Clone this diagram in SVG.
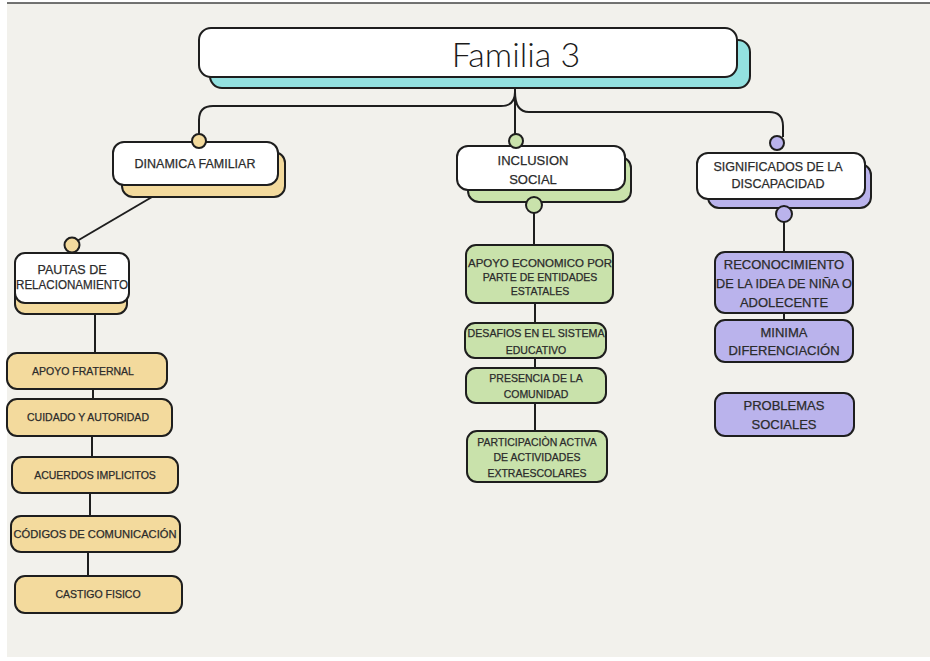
<svg xmlns="http://www.w3.org/2000/svg" width="930" height="661" viewBox="0 0 930 661">
<defs>
<style>
.bg{fill:#f2f1ec}
.box{stroke:#1e1e1e;stroke-width:2}
.w{fill:#ffffff}
.y{fill:#f3da9d}
.g{fill:#c9e2ab}
.p{fill:#bab3ec}
.t{fill:#93e1e0}
.ln{fill:none;stroke:#1e1e1e;stroke-width:2}
text{font-family:"Liberation Sans",Arial,sans-serif;fill:#2b2b2b;stroke:#2b2b2b;stroke-width:0.25;text-anchor:middle;dominant-baseline:central}
.s10{font-size:10.5px}
.s12{font-size:12.5px}
.s13{font-size:13px}
.title{font-family:Lato,"Liberation Sans",sans-serif;font-size:34px;font-weight:300;fill:#1a1a1a;stroke:none}
</style>
</defs>
<rect x="0" y="0" width="930" height="661" fill="#ffffff"/>
<rect class="bg" x="7" y="3" width="923" height="654"/>
<line x1="7" y1="3" x2="930" y2="3" stroke="#444" stroke-width="1.5"/>

<g id="connectors">
<path class="ln" d="M515,88 V134"/>
<path class="ln" d="M515,92 Q515,106 501,106 H213 Q199,106 199,120 V134"/>
<path class="ln" d="M515,92 Q515,112 529,112 H769 Q783,112 783,126 V137"/>
<path class="ln" d="M152,197 L77,241"/>
<path class="ln" d="M95,314 V353"/>
<path class="ln" d="M93,389 V399"/>
<path class="ln" d="M92,436 V457"/>
<path class="ln" d="M90,493 V516"/>
<path class="ln" d="M88,552 V576"/>
<path class="ln" d="M534,213 V245"/>
<path class="ln" d="M535,303 V323"/>
<path class="ln" d="M535,358 V368"/>
<path class="ln" d="M535,403 V431"/>
<path class="ln" d="M784,222 V252"/>
<path class="ln" d="M784,313 V320"/>
</g>

<g id="familia3">
<rect class="box t" x="210" y="40" width="540" height="48" rx="12"/>
<rect class="box w" x="199" y="28" width="538" height="49" rx="12"/>
<text class="title" x="516" y="53">Familia 3</text>
</g>

<g id="dinamica-familiar">
<rect class="box y" x="122" y="152" width="163" height="45" rx="11"/>
<rect class="box w" x="113" y="142" width="165" height="43" rx="11"/>
<circle class="box y" cx="199" cy="141" r="7"/>
<text class="s12" x="195" y="164">DINAMICA FAMILIAR</text>
</g>

<g id="pautas">
<rect class="box y" x="15" y="263" width="112" height="51" rx="10"/>
<rect class="box w" x="15" y="253" width="114" height="50" rx="10"/>
<circle class="box y" cx="72" cy="245" r="7.5"/>
<text class="s12" x="72" y="270">PAUTAS DE</text>
<text class="s12" x="72" y="285" textLength="112" lengthAdjust="spacingAndGlyphs">RELACIONAMIENTO</text>
</g>

<g id="apoyo-fraternal">
<rect class="box y" x="7" y="353" width="160" height="36" rx="10"/>
<text class="s10" x="83" y="371">APOYO FRATERNAL</text>
</g>
<g id="cuidado">
<rect class="box y" x="7" y="399" width="165" height="37" rx="10"/>
<text class="s10" x="88" y="417">CUIDADO Y AUTORIDAD</text>
</g>
<g id="acuerdos">
<rect class="box y" x="12" y="457" width="166" height="36" rx="10"/>
<text class="s10" x="95" y="475">ACUERDOS IMPLICITOS</text>
</g>
<g id="codigos">
<rect class="box y" x="11" y="516" width="169" height="36" rx="10"/>
<text class="s10" x="95" y="534" textLength="163" lengthAdjust="spacingAndGlyphs">CÓDIGOS DE COMUNICACIÓN</text>
</g>
<g id="castigo">
<rect class="box y" x="15" y="576" width="167" height="37" rx="10"/>
<text class="s10" x="98" y="594">CASTIGO FISICO</text>
</g>

<g id="inclusion-social">
<rect class="box g" x="468" y="157" width="163" height="45" rx="11"/>
<rect class="box w" x="457" y="146" width="168" height="44" rx="11"/>
<circle class="box g" cx="516" cy="141" r="7"/>
<circle class="box g" cx="534" cy="205" r="8"/>
<text class="s13" x="533" y="160">INCLUSION</text>
<text class="s13" x="533" y="179">SOCIAL</text>
</g>

<g id="apoyo-economico">
<rect class="box g" x="466" y="245" width="147" height="58" rx="10"/>
<text class="s10" x="540" y="263" textLength="144" lengthAdjust="spacingAndGlyphs">APOYO ECONOMICO POR</text>
<text class="s10" x="540" y="277">PARTE DE ENTIDADES</text>
<text class="s10" x="540" y="291">ESTATALES</text>
</g>
<g id="desafios">
<rect class="box g" x="465" y="323" width="141" height="35" rx="10"/>
<text class="s10" x="536" y="333" textLength="137" lengthAdjust="spacingAndGlyphs">DESAFIOS EN EL SISTEMA</text>
<text class="s10" x="536" y="350">EDUCATIVO</text>
</g>
<g id="presencia">
<rect class="box g" x="466" y="368" width="140" height="35" rx="10"/>
<text class="s10" x="536" y="378">PRESENCIA DE LA</text>
<text class="s10" x="536" y="394">COMUNIDAD</text>
</g>
<g id="participacion">
<rect class="box g" x="467" y="431" width="140" height="51" rx="10"/>
<text class="s10" x="537" y="442">PARTICIPACIÒN ACTIVA</text>
<text class="s10" x="537" y="457">DE ACTIVIDADES</text>
<text class="s10" x="537" y="473">EXTRAESCOLARES</text>
</g>

<g id="significados">
<rect class="box p" x="708" y="164" width="163" height="44" rx="11"/>
<rect class="box w" x="697" y="153" width="168" height="46" rx="11"/>
<circle class="box p" cx="777" cy="143" r="7"/>
<circle class="box p" cx="784" cy="214" r="8"/>
<text class="s12" x="778" y="167">SIGNIFICADOS DE LA</text>
<text class="s12" x="778" y="184">DISCAPACIDAD</text>
</g>

<g id="reconocimiento">
<rect class="box p" x="715" y="252" width="138" height="61" rx="10"/>
<text class="s13" x="784" y="264">RECONOCIMIENTO</text>
<text class="s13" x="784" y="283" textLength="136" lengthAdjust="spacingAndGlyphs">DE LA IDEA DE NIÑA O</text>
<text class="s13" x="784" y="302">ADOLECENTE</text>
</g>
<g id="minima">
<rect class="box p" x="715" y="320" width="138" height="42" rx="10"/>
<text class="s13" x="784" y="332">MINIMA</text>
<text class="s13" x="784" y="350">DIFERENCIACIÓN</text>
</g>
<g id="problemas">
<rect class="box p" x="715" y="393" width="139" height="43" rx="10"/>
<text class="s13" x="784" y="405">PROBLEMAS</text>
<text class="s13" x="784" y="424">SOCIALES</text>
</g>
</svg>
